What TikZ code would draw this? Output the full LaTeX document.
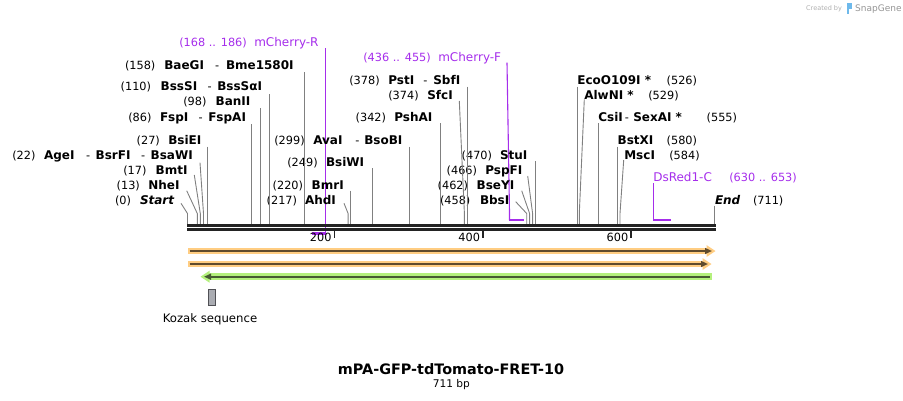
\documentclass[tikz,border=0pt]{standalone}
\usepackage{fontspec}
\setmainfont{DejaVu Sans}
\definecolor{connc}{RGB}{128,128,128}
\definecolor{primc}{RGB}{165,45,235}
\definecolor{barc}{RGB}{35,35,35}
\definecolor{orf}{RGB}{255,205,130}
\definecolor{ord}{RGB}{95,75,45}
\definecolor{grf}{RGB}{180,240,125}
\definecolor{grd}{RGB}{70,90,50}
\definecolor{kozf}{RGB}{170,172,178}
\definecolor{kozd}{RGB}{80,80,85}
\definecolor{wmc}{RGB}{175,175,175}
\definecolor{logoc}{RGB}{110,185,235}
\begin{document}
\begin{tikzpicture}[x=1pt,y=-1pt,
  num/.style={anchor=base west,inner sep=0pt,outer sep=0pt,font=\fontsize{11.3}{13}\selectfont},
  enz/.style={anchor=base west,inner sep=0pt,outer sep=0pt,font=\fontsize{12}{14}\selectfont\bfseries},
  enzit/.style={anchor=base west,inner sep=0pt,outer sep=0pt,font=\fontsize{12}{14}\selectfont\bfseries\itshape},
  prm/.style={anchor=base west,inner sep=0pt,outer sep=0pt,text=primc,font=\fontsize{12}{14}\selectfont},
  prmnum/.style={num,text=primc},
  conn/.style={draw=connc,line width=0.9pt},
  prml/.style={draw=primc,line width=1.1pt},
  prmh/.style={draw=primc,line width=2.3pt},
  tick/.style={draw=barc,line width=1.7pt},
  ticklbl/.style={anchor=base east,inner sep=0pt,outer sep=0pt,font=\fontsize{11.3}{13}\selectfont}]
\useasboundingbox (0,0) rectangle (903,400);

% ---------- watermark ----------
\node[anchor=base west,inner sep=0pt,text=wmc,font=\fontsize{6.5}{8}\selectfont] (wm1) at (806,10.5) {Created by};
\fill[logoc] (846.5,3) rectangle (852,8.5);
\fill[logoc] (846.5,8.5) rectangle (849,13.5);
\node[anchor=base west,inner sep=0pt,text=wmc!85!black,font=\fontsize{9}{10}\selectfont] (wm2) at (855,11.5) {SnapGene};

% ---------- site coordinates (top of bar) ----------
\coordinate (b0) at (187.5,224);
\coordinate (b13) at (197.3,224);
\coordinate (b17) at (200.3,224);
\coordinate (b22) at (203.5,224);
\coordinate (b27) at (207.3,224);
\coordinate (b86) at (251,224);
\coordinate (b98) at (260,224);
\coordinate (b110) at (269,224);
\coordinate (b158) at (304.3,224);
\coordinate (b217) at (348.1,224);
\coordinate (b220) at (350.3,224);
\coordinate (b249) at (372,224);
\coordinate (b299) at (409,224);
\coordinate (b342) at (440.5,224);
\coordinate (b374) at (464.4,224);
\coordinate (b378) at (467.4,224);
\coordinate (b458) at (526.7,224);
\coordinate (b462) at (529.6,224);
\coordinate (b466) at (532.6,224);
\coordinate (b470) at (535.6,224);
\coordinate (b526) at (577.2,224);
\coordinate (b529) at (579.3,224);
\coordinate (b555) at (598.5,224);
\coordinate (b580) at (617.5,224);
\coordinate (b584) at (620,224);
\coordinate (b711) at (714.8,224);

% ---------- primers (purple) ----------
\coordinate (pRt) at (325.2,48.3);
\coordinate (pRb) at (325.2,234.5);
\coordinate (pRs) at (311.5,233.5);
\coordinate (pRe) at (325.2,233.5);
\draw[prml] (pRt) -- (pRb);
\draw[prmh] (pRs) -- (pRe);
\coordinate (pFt) at (507,62.7);
\coordinate (pFm) at (509.5,212);
\coordinate (pFs) at (509.5,220);
\coordinate (pFe) at (523.5,220);
\draw[prml] (pFt) -- (pFm) -- (pFs);
\draw[prmh] ([xshift=-0.55pt]pFs) -- (pFe);
\coordinate (pDt) at (653.5,183.3);
\coordinate (pDs) at (653.5,220);
\coordinate (pDe) at (670.7,220);
\draw[prml] (pDt) -- (pDs);
\draw[prmh] ([xshift=-0.55pt]pDs) -- (pDe);

% ---------- labels: left group ----------
\node[prmnum] (pRn) at (179.3,46.5) {(168 .. 186)};
\node[prm] (pR) at (254.3,46.5) {mCherry-R};
\node[num] (n158) at (125,69) {(158)};
\node[enz] (e158a) at (164.3,69) {BaeGI};
\node[num] (d158) at (215,69) {-};
\node[enz] (e158b) at (226,69) {Bme1580I};
\node[num] (n110) at (120.7,90) {(110)};
\node[enz] (e110a) at (160.7,90) {BssSI};
\node[num] (d110) at (207.5,90) {-};
\node[enz] (e110b) at (217.3,90) {BssSαI};
\node[num] (n98) at (183.3,105.5) {(98)};
\node[enz] (e98) at (215.7,105.5) {BanII};
\node[num] (n86) at (128.3,121) {(86)};
\node[enz] (e86a) at (160,121) {FspI};
\node[num] (d86) at (198.5,121) {-};
\node[enz] (e86b) at (208.3,121) {FspAI};
\node[num] (n27) at (136.7,144) {(27)};
\node[enz] (e27) at (168.3,144) {BsiEI};
\node[num] (n22) at (12.3,159) {(22)};
\node[enz] (e22a) at (44,159) {AgeI};
\node[num] (d22a) at (86,159) {-};
\node[enz] (e22b) at (95.7,159) {BsrFI};
\node[num] (d22b) at (141,159) {-};
\node[enz] (e22c) at (150.7,159) {BsaWI};
\node[num] (n17) at (123.3,174) {(17)};
\node[enz] (e17) at (155.7,174) {BmtI};
\node[num] (n13) at (116.7,189) {(13)};
\node[enz] (e13) at (148.3,189) {NheI};
\node[num] (n0) at (115,204) {(0)};
\node[enzit] (e0) at (140,204) {Start};

% ---------- labels: middle group ----------
\node[num] (n217) at (266.7,204) {(217)};
\node[enz] (e217) at (305,204) {AhdI};
\node[num] (n220) at (272.7,189) {(220)};
\node[enz] (e220) at (311.7,189) {BmrI};
\node[num] (n249) at (287.3,166.5) {(249)};
\node[enz] (e249) at (326,166.5) {BsiWI};
\node[num] (n299) at (274.3,144) {(299)};
\node[enz] (e299a) at (313.3,144) {AvaI};
\node[num] (d299) at (355.3,144) {-};
\node[enz] (e299b) at (364.3,144) {BsoBI};
\node[num] (n342) at (355.7,121.5) {(342)};
\node[enz] (e342) at (394.3,121.5) {PshAI};
\node[num] (n374) at (388.3,99) {(374)};
\node[enz] (e374) at (427.3,99) {SfcI};
\node[num] (n378) at (349.3,84) {(378)};
\node[enz] (e378a) at (388.3,84) {PstI};
\node[num] (d378) at (423.3,84) {-};
\node[enz] (e378b) at (433.3,84) {SbfI};
\node[prmnum] (pFn) at (363.3,61.5) {(436 .. 455)};
\node[prm] (pF) at (438.3,61.5) {mCherry-F};
\node[num] (n458) at (440,204) {(458)};
\node[enz] (e458) at (480,204) {BbsI};
\node[num] (n462) at (437.7,189) {(462)};
\node[enz] (e462) at (476.7,189) {BseYI};
\node[num] (n466) at (446.7,174) {(466)};
\node[enz] (e466) at (485.3,174) {PspFI};
\node[num] (n470) at (461.7,159) {(470)};
\node[enz] (e470) at (500,159) {StuI};

% ---------- labels: right group ----------
\node[enz] (e526) at (577.3,84) {EcoO109I *};
\node[num] (n526) at (666.7,84) {(526)};
\node[enz] (e529) at (584.3,99) {AlwNI *};
\node[num] (n529) at (648.3,99) {(529)};
\node[enz] (e555a) at (598.3,121.5) {CsiI};
\node[num] (d555) at (624.8,121.5) {-};
\node[enz] (e555b) at (633.3,121.5) {SexAI *};
\node[num] (n555) at (706.7,121.5) {(555)};
\node[enz] (e580) at (617.7,144) {BstXI};
\node[num] (n580) at (666.7,144) {(580)};
\node[enz] (e584) at (624.3,159) {MscI};
\node[num] (n584) at (669.3,159) {(584)};
\node[prm] (pD) at (653.3,181.5) {DsRed1-C};
\node[prmnum] (pDn) at (729.3,181.5) {(630 .. 653)};
\node[enzit] (eEnd) at (715,204) {End};
\node[num] (nEnd) at (753,204) {(711)};

% ---------- connectors ----------
\draw[conn] (181,203.3) -- (187.5,213.5) -- (b0);
\draw[conn] (186.7,190.7) -- (197.3,213.5) -- (b13);
\draw[conn] (194.3,175) -- (200.3,213.5) -- (b17);
\draw[conn] (200,162.7) -- (203.5,213.5) -- (b22);
\draw[conn] (207.3,146.7) -- (b27);
\draw[conn] (251,124) -- (b86);
\draw[conn] (260,108) -- (b98);
\draw[conn] (269,94) -- (b110);
\draw[conn] (304.3,72) -- (b158);
\draw[conn] (344,203.3) -- (348.1,213.5) -- (b217);
\draw[conn] (350.3,190.7) -- (b220);
\draw[conn] (372,168) -- (b249);
\draw[conn] (409,146.7) -- (b299);
\draw[conn] (440.5,123) -- (b342);
\draw[conn] (459.3,101) -- (464.4,213.5) -- (b374);
\draw[conn] (467.4,86.7) -- (b378);
\draw[conn] (515.7,201.7) -- (526.7,213.5) -- (b458);
\draw[conn] (521.7,190.7) -- (529.6,213.5) -- (b462);
\draw[conn] (527.7,176) -- (532.6,213.5) -- (b466);
\draw[conn] (535.6,161) -- (b470);
\draw[conn] (577.2,86.7) -- (b526);
\draw[conn] (584.3,99.3) -- (579.3,213.5) -- (b529);
\draw[conn] (598.5,123.3) -- (b555);
\draw[conn] (617.5,146.7) -- (b580);
\draw[conn] (623.7,160) -- (620,213.5) -- (b584);
\draw[conn] (714.8,205.7) -- (b711);

% ---------- backbone ----------
\coordinate (bbS1) at (187.3,225.3);
\coordinate (bbE1) at (715.5,225.3);
\coordinate (bbS2) at (187.3,229.5);
\coordinate (bbE2) at (715.5,229.5);
\draw[barc,line width=2.5pt] (bbS1) -- (bbE1);
\draw[barc,line width=2.4pt] (bbS2) -- (bbE2);
\draw[tick] (334.5,230) -- (334.5,237.8);
\draw[tick] (483,230) -- (483,237.8);
\draw[tick] (631.3,230) -- (631.3,237.8);
\node[ticklbl] (t200) at (331.5,241.5) {200};
\node[ticklbl] (t400) at (480,241.5) {400};
\node[ticklbl] (t600) at (628.3,241.5) {600};

% ---------- features ----------
\fill[orf] (187.5,248) rectangle (707,254);
\fill[orf] (706.5,245) -- (715.5,251) -- (706.5,257) -- cycle;
\draw[ord,line width=2pt] (189.5,251) -- (707,251);
\fill[ord] (705,247.8) -- (711.8,251) -- (705,254.2) -- cycle;

\fill[orf] (187.5,261) rectangle (703,267);
\fill[orf] (702.5,258) -- (711.5,264) -- (702.5,270) -- cycle;
\draw[ord,line width=2pt] (189.5,264) -- (703,264);
\fill[ord] (701,260.8) -- (707.8,264) -- (701,267.2) -- cycle;

\fill[grf] (711.7,273.4) rectangle (209,280);
\fill[grf] (209.5,270.7) -- (200.5,276.7) -- (209.5,282.7) -- cycle;
\draw[grd,line width=2pt] (709.7,276.7) -- (209,276.7);
\fill[grd] (211,273.5) -- (204.2,276.7) -- (211,279.9) -- cycle;

\draw[fill=kozf,draw=kozd,line width=0.8pt] (208.6,289.6) rectangle (215,305.4);
\node[anchor=base,inner sep=0pt,font=\fontsize{11.7}{13}\selectfont] (koz) at (210,322.3) {Kozak sequence};

% ---------- title ----------
\node[anchor=base,inner sep=0pt,font=\fontsize{14.4}{16}\selectfont\bfseries] (title) at (451,374.3) {mPA-GFP-tdTomato-FRET-10};
\node[anchor=base,inner sep=0pt,font=\fontsize{10.6}{12}\selectfont] (bp) at (451.3,387.3) {711 bp};
\end{tikzpicture}
\end{document}
